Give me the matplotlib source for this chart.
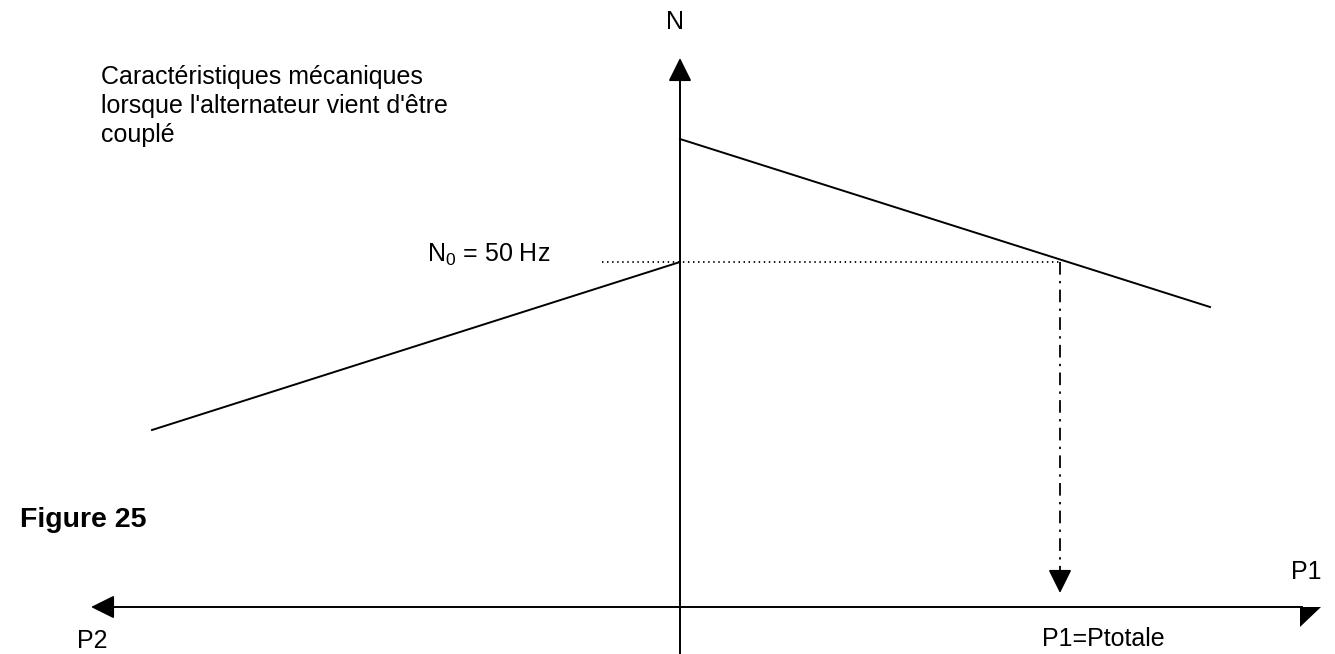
import matplotlib.pyplot as plt

plt.rcParams["font.family"] = ["Liberation Sans", "DejaVu Sans"]
plt.rcParams["mathtext.default"] = "regular"

# characteristic lines (drawing coordinates, y grows downward)
line1_x = [680, 1210]
line1_y = [139, 307]
line2_x = [152, 680]
line2_y = [430, 262]

# operating point
n0_y = 262
p1_x = 1060

# axes positions
axis_x = 680
axis_y = 607

fig = plt.figure(figsize=(13.35, 6.54), dpi=100)
ax = fig.add_axes([0, 0, 1, 1])
ax.set_xlim(0, 1335)
ax.set_ylim(654, 0)
ax.axis("off")

head = dict(arrowstyle="-|>,head_length=1.45,head_width=0.72",
            color="black", lw=1.3, shrinkA=0, shrinkB=0)

# vertical axis N
ax.plot([axis_x, axis_x], [76, 654], color="black", lw=1.4)
ax.annotate("", xy=(axis_x, 58), xytext=(axis_x, 80), arrowprops=head)

# horizontal axis P2 <- -> P1
ax.plot([108, 1302], [axis_y, axis_y], color="black", lw=1.4)
ax.annotate("", xy=(91, axis_y), xytext=(112, axis_y), arrowprops=head)
# half arrow head on the right end
ax.fill([1300, 1321, 1300], [axis_y, axis_y, axis_y + 20], color="black", lw=0)

# characteristics
ax.plot(line1_x, line1_y, color="black", lw=1.4)
ax.plot(line2_x, line2_y, color="black", lw=1.4)

# N0 dotted line and projection to P1
ax.plot([602, p1_x], [n0_y, n0_y], color="black", lw=1.3, ls=(0, (0.8, 2.0)))
ax.plot([p1_x, p1_x], [n0_y, 576], color="black", lw=1.3, ls=(0, (7, 3.5, 1.3, 3.5)))
ax.annotate("", xy=(p1_x, 593), xytext=(p1_x, 572), arrowprops=head)

# texts
fs = 18
ax.text(675, 22, "N", fontsize=fs, ha="center", va="center")
ax.text(550, 262, "N$_0$ = 50 Hz", fontsize=fs, ha="right", va="baseline")
ax.text(101, 84, "Caractéristiques mécaniques", fontsize=fs, ha="left", va="baseline")
ax.text(101, 113, "lorsque l'alternateur vient d'être", fontsize=fs, ha="left", va="baseline")
ax.text(101, 142, "couplé", fontsize=fs, ha="left", va="baseline")
ax.text(20, 520, "Figure 25", fontsize=20.5, fontweight="bold", ha="left", va="center")
ax.text(1306, 572, "P1", fontsize=fs, ha="center", va="center")
ax.text(92, 641, "P2", fontsize=fs, ha="center", va="center")
ax.text(1042, 639, "P1=Ptotale", fontsize=fs, ha="left", va="center")

fig.savefig("out.png", dpi=100)
